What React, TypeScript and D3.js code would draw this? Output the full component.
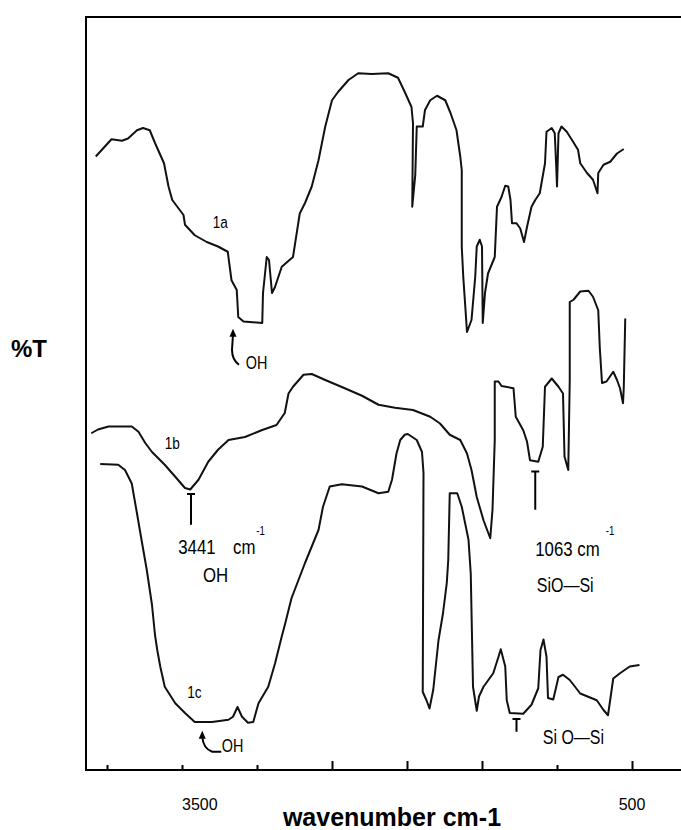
import { useEffect, useRef } from "react";
import * as d3 from "d3";

const W = 681;
const H = 830;

// [wavenumber cm-1, %T]
const spectrum1a = [
  [4075, 81.8], [3970, 84.1], [3900, 83.9], [3860, 84.2], [3800, 85.3], [3760, 85.6], [3715, 85.3],
  [3680, 83.6], [3620, 80.9], [3590, 77.8], [3565, 76.0], [3490, 74.0], [3480, 72.7], [3415, 71.3],
  [3335, 70.4], [3260, 69.8], [3195, 69.1], [3170, 65.3], [3135, 64.0], [3125, 60.4], [3090, 59.8],
  [2965, 59.6], [2960, 63.6], [2935, 68.4], [2920, 68.0], [2900, 63.6], [2880, 64.4], [2835, 67.1],
  [2760, 68.4], [2715, 74.2], [2680, 75.6], [2635, 77.8], [2590, 81.3], [2545, 85.8], [2500, 89.3],
  [2460, 90.4], [2390, 92.0], [2325, 92.9], [2235, 92.8], [2125, 92.9], [2060, 92.3], [2015, 90.4],
  [1970, 88.4], [1960, 86.2], [1965, 75.1], [1945, 79.3], [1935, 85.8], [1895, 85.8], [1880, 88.0],
  [1845, 89.3], [1800, 89.9], [1745, 89.3], [1710, 87.6], [1670, 85.3], [1645, 81.8], [1635, 80.0],
  [1635, 69.8], [1625, 65.8], [1600, 58.4], [1570, 60.0], [1545, 65.8], [1535, 69.8], [1515, 70.7],
  [1500, 69.8], [1495, 59.6], [1480, 63.6], [1460, 66.2], [1415, 68.4], [1400, 75.1], [1370, 76.4],
  [1345, 77.9], [1325, 77.8], [1310, 76.0], [1300, 72.9], [1270, 72.9], [1245, 72.2], [1220, 70.4],
  [1200, 72.4], [1170, 75.1], [1145, 76.0], [1115, 76.9], [1080, 80.9], [1070, 85.1], [1035, 85.6],
  [1015, 84.9], [1005, 80.4], [1000, 77.8], [990, 84.9], [970, 85.8], [935, 85.1], [900, 84.0],
  [860, 82.7], [845, 80.9], [800, 79.6], [760, 78.7], [730, 76.9], [725, 79.6], [690, 80.7],
  [645, 81.1], [600, 82.2], [555, 82.8],
];

const spectrum1b = [
  [4105, 44.9], [4060, 45.4], [3990, 45.8], [3835, 45.8], [3790, 45.1], [3745, 43.6], [3700, 42.4],
  [3615, 40.7], [3545, 39.1], [3480, 37.6], [3445, 37.4], [3390, 38.7], [3325, 41.1], [3260, 42.7],
  [3190, 44.0], [3080, 44.4], [2970, 45.3], [2870, 46.0], [2815, 47.6], [2790, 50.2], [2760, 51.1],
  [2690, 52.7], [2635, 52.8], [2545, 52.0], [2415, 50.9], [2300, 49.9], [2190, 48.7], [2080, 48.3],
  [1960, 48.0], [1845, 47.1], [1780, 46.2], [1715, 44.7], [1645, 44.0], [1600, 42.2], [1570, 40.0],
  [1535, 36.4], [1490, 33.3], [1445, 30.9], [1430, 34.7], [1415, 44.0], [1415, 51.8], [1390, 51.8],
  [1370, 51.2], [1290, 50.9], [1275, 47.1], [1225, 45.3], [1200, 43.8], [1180, 41.3], [1125, 41.1],
  [1095, 43.1], [1080, 51.1], [1035, 52.2], [990, 51.1], [960, 50.2], [950, 41.8], [925, 40.0],
  [915, 52.0], [915, 62.4], [890, 62.7], [845, 63.8], [790, 63.9], [760, 63.1], [725, 61.3],
  [715, 56.4], [700, 51.6], [670, 51.8], [625, 53.1], [600, 52.0], [580, 50.9], [560, 48.9],
  [555, 50.9], [545, 60.2],
];

const spectrum1c = [
  [4045, 40.8], [3925, 40.7], [3880, 40.0], [3835, 38.2], [3800, 34.2], [3770, 30.7], [3735, 26.7],
  [3700, 22.0], [3680, 18.0], [3665, 16.0], [3645, 13.8], [3615, 11.1], [3545, 8.9], [3480, 7.6],
  [3415, 6.4], [3300, 6.4], [3190, 6.7], [3160, 7.1], [3130, 8.4], [3100, 7.1], [3060, 6.3],
  [3025, 6.4], [2990, 8.9], [2925, 11.1], [2880, 14.2], [2835, 17.8], [2815, 19.3], [2770, 22.9],
  [2680, 27.6], [2590, 32.0], [2560, 35.1], [2515, 37.8], [2435, 38.1], [2300, 37.8], [2190, 36.9],
  [2125, 37.1], [2100, 38.7], [2070, 42.2], [2045, 44.0], [2015, 44.7], [1995, 44.8], [1935, 44.0],
  [1900, 42.4], [1890, 39.6], [1895, 10.4], [1870, 9.3], [1850, 8.2], [1825, 10.7], [1790, 17.3],
  [1760, 20.9], [1735, 24.9], [1725, 28.0], [1715, 36.9], [1665, 36.9], [1635, 35.1], [1590, 30.7],
  [1575, 26.2], [1560, 11.1], [1535, 7.9], [1520, 9.8], [1490, 11.1], [1425, 12.9], [1390, 15.1],
  [1375, 16.1], [1345, 13.8], [1335, 9.3], [1315, 7.6], [1225, 7.5], [1170, 8.7], [1125, 10.9],
  [1110, 16.0], [1090, 17.4], [1070, 15.1], [1060, 9.6], [1025, 9.4], [990, 12.4], [960, 12.7],
  [915, 12.0], [845, 10.2], [735, 9.3], [690, 8.0], [660, 7.3], [625, 12.2], [580, 12.9],
  [515, 13.8], [450, 14.0],
];

const majorTicks = [2500, 2000, 1500, 500];
const minorTicks = [4000, 3500, 3000, 1000];
const tickLabels = [3500, 500];

// annotations anchored in data units [text, wavenumber, %T]
const curveNames = [["1a", 3295, 72.3], ["1b", 3615, 42.8], ["1c", 3465, 9.6]];
const peakTexts = [["3441", 3525, 28.8], ["cm", 3160, 28.8], ["1063 cm", 1145, 28.5], ["OH", 3360, 25.1]];
const bondTexts = [["SiO\u2014Si", 1135, 23.7], ["Si O\u2014Si", 1095, 3.5]];
const ohTexts = [["OH", 3075, 53.5], ["OH", 3235, 2.4]];
const superTexts = [["-1", 3005, 31.3], ["-1", 675, 31.3]];
// [wavenumber, %T top, %T bottom]
const peakMarks = [[3440, 36.8, 32.7], [1145, 39.8, 34.7], [1270, 6.8, 5.1]];
const hookArrows = [[3160, 58.7, "a"], [3365, 5.1, "c"]];

const sans = "'Liberation Sans', Arial, sans-serif";

const App = () => {
  const svgRef = useRef(null);

  useEffect(() => {
    const margin = { top: 17, right: 0, bottom: 60, left: 86 };
    const plotBottom = H - margin.bottom;

    const x = d3.scaleLinear().domain([3500, 500]).range([182, 632]);
    const y = d3.scaleLinear().domain([0, 100]).range([plotBottom, 20]);

    const svg = d3.select(svgRef.current);
    svg.selectAll("*").remove();

    // frame: top, left, bottom
    svg.append("path")
      .attr("d", `M${W},${margin.top}H${margin.left}V${plotBottom}H${W - margin.right}`)
      .attr("fill", "none")
      .attr("stroke", "#000")
      .attr("stroke-width", 2);

    // ticks pointing up into the plot
    const drawTicks = (vals, len) => {
      const g = svg.append("g").attr("transform", `translate(0,${plotBottom})`)
        .call(d3.axisBottom(x).tickValues(vals).tickSize(-len).tickFormat(() => ""));
      g.select(".domain").remove();
      g.selectAll("line").attr("stroke", "#000").attr("stroke-width", 2);
    };
    drawTicks(majorTicks, 9);
    drawTicks(minorTicks, 5);

    svg.append("g")
      .selectAll("text")
      .data(tickLabels)
      .join("text")
      .attr("x", (d) => x(d))
      .attr("y", plotBottom + 40)
      .attr("text-anchor", (d) => (d === 500 ? "middle" : "start"))
      .attr("font-family", sans)
      .attr("font-size", 16)
      .text((d) => d);

    svg.append("text")
      .attr("x", 392)
      .attr("y", H - 4)
      .attr("text-anchor", "middle")
      .attr("font-family", sans)
      .attr("font-weight", "bold")
      .attr("font-size", 25)
      .text("wavenumber cm-1");

    svg.append("text")
      .attr("x", 11)
      .attr("y", 357)
      .attr("font-family", sans)
      .attr("font-weight", "bold")
      .attr("font-size", 24)
      .text("%T");

    const line = d3.line().x((d) => x(d[0])).y((d) => y(d[1]));

    svg.append("g")
      .selectAll("path")
      .data([spectrum1a, spectrum1b, spectrum1c])
      .join("path")
      .attr("d", line)
      .attr("fill", "none")
      .attr("stroke", "#111")
      .attr("stroke-width", 2)
      .attr("stroke-linejoin", "round");

    // condensed look of the scanned labels: squeeze Liberation Sans horizontally
    const addTexts = (rows, size) =>
      svg.append("g")
        .selectAll("text")
        .data(rows)
        .join("text")
        .attr("transform", (d) => `translate(${x(d[1])},${y(d[2])}) scale(0.8,1)`)
        .attr("font-family", sans)
        .attr("font-size", size)
        .text((d) => d[0]);

    addTexts(curveNames, 17);
    addTexts(peakTexts, 21);
    addTexts(bondTexts, 20);
    addTexts(ohTexts, 18);
    addTexts(superTexts, 12);

    // T-shaped peak markers
    const marks = svg.append("g").attr("stroke", "#000").attr("stroke-width", 2);
    peakMarks.forEach(([w, t0, t1]) => {
      marks.append("line").attr("x1", x(w)).attr("x2", x(w)).attr("y1", y(t0)).attr("y2", y(t1));
      marks.append("line").attr("x1", x(w) - 4).attr("x2", x(w) + 4).attr("y1", y(t0)).attr("y2", y(t0));
    });

    // hooked arrows under the OH bands
    hookArrows.forEach(([w, t, kind]) => {
      const g = svg.append("g").attr("transform", `translate(${x(w)},${y(t)})`);
      g.append("path").attr("d", "M0,-1L-3.5,7L3.5,7Z").attr("fill", "#000");
      g.append("path")
        .attr("d", kind === "a" ? "M0,5L-1,20Q-1,30 6,35" : "M0,5Q1,17 10,20L19,20")
        .attr("fill", "none")
        .attr("stroke", "#000")
        .attr("stroke-width", 2);
    });
  }, []);

  return (
    <svg
      ref={svgRef}
      width={W}
      height={H}
      style={{ position: "absolute", left: 0, top: 0, background: "#fff" }}
    />
  );
};

export default App;
